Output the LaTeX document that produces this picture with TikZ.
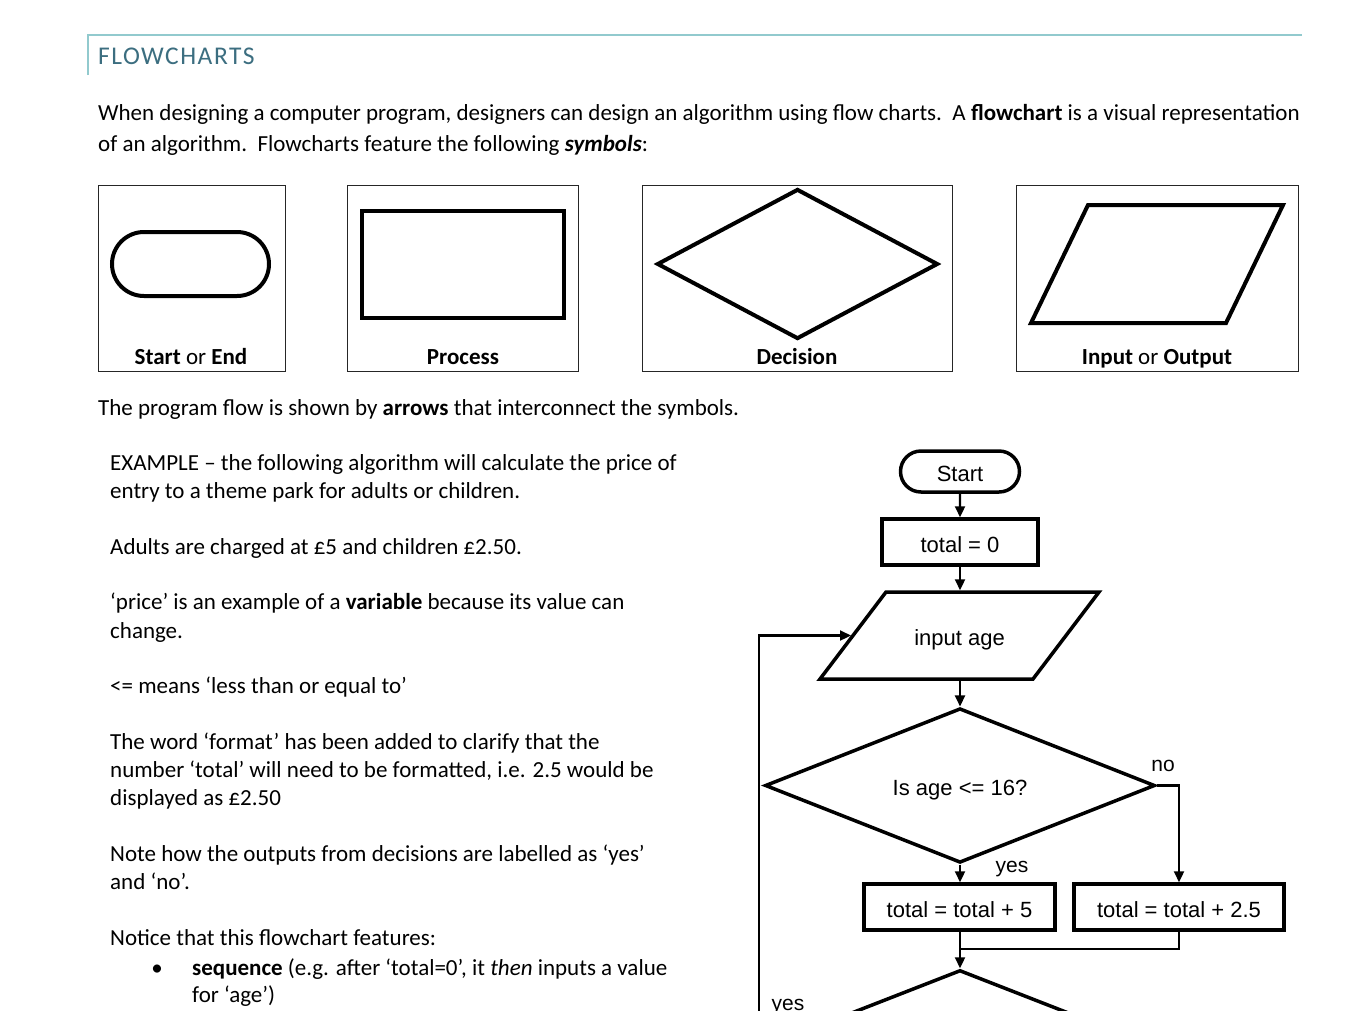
\documentclass[tikz,border=0pt]{standalone}
\usepackage{fontspec}
\setmainfont{Carlito}
\newfontfamily\fcfont{Liberation Sans}
\newfontfamily\headfont[LetterSpace=6]{Carlito}
\usetikzlibrary{shapes.geometric,shapes.misc,arrows.meta}
\definecolor{headline}{RGB}{146,202,206}
\definecolor{headtext}{RGB}{60,110,128}
\tikzset{
  body/.style={font=\fontsize{23}{26}\selectfont, inner sep=0pt, anchor=base west},
  legbox/.style={draw=black!85, line width=1pt, inner sep=0pt, anchor=north west, minimum height=186pt},
  sym/.style={draw, line width=4pt, inner sep=0pt},
  fc/.style={draw, line width=3.5pt, inner sep=0pt, text height=20pt, text depth=0pt, font=\fcfont\fontsize{22}{26}\selectfont},
  fctext/.style={inner sep=0pt, font=\fcfont\fontsize{22}{26}\selectfont},
  conn/.style={line width=2.2pt, -{Triangle[length=11pt,width=10pt]}},
  plain/.style={line width=2.2pt},
  lbl/.style={font=\fcfont\fontsize{21}{24}\selectfont, inner sep=0pt, anchor=base},
}
\begin{document}
\begin{tikzpicture}[x=1pt,y=-1pt]
\useasboundingbox (0,0) rectangle (1346,1010);
\fill[white] (0,0) rectangle (1346,1010);
\clip (0,0) rectangle (1346,1010);

% header
\draw[headline, line width=1.5pt] (88,75) -- (88,35) -- (1302,35);
\node[anchor=base west, inner sep=0pt, text=headtext, font=\headfont\fontsize{25.5}{28}\selectfont] (head) at (98,64) {FLOWCHARTS};

% intro
\node[body] (p1) at (98,120) {When designing a computer program, designers can design an algorithm using flow charts.\ \ A \textbf{flowchart} is a visual representation};
\node[body] (p2) at (98,151) {of an algorithm.\ \ Flowcharts feature the following \textbf{\textit{symbols}}:};

% legend boxes
\node[legbox, minimum width=187pt] (b1) at (98,185) {};
\node[legbox, minimum width=231pt] (b2) at (347,185) {};
\node[legbox, minimum width=310pt] (b3) at (642,185) {};
\node[legbox, minimum width=282pt] (b4) at (1016,185) {};

\node[sym, rounded rectangle, minimum width=157pt, minimum height=64pt] (s1) at (190.5,264) {};
\node[sym, rectangle, minimum width=202pt, minimum height=107pt] (s2) at (463,264.5) {};
\node[sym, diamond, minimum width=281pt, minimum height=150pt] (s3) at (797.5,264) {};
\node[inner sep=0pt, minimum width=252pt, minimum height=118pt] (s4) at (1157,264) {};
\draw[line width=4pt, line join=miter] (1088,205) -- (1283,205) -- (1226,323) -- (1031,323) -- cycle;

\node[body, anchor=base] (l1) at (191,364) {\textbf{Start} or \textbf{End}};
\node[body, anchor=base] (l2) at (463,364) {\textbf{Process}};
\node[body, anchor=base] (l3) at (797,364) {\textbf{Decision}};
\node[body, anchor=base] (l4) at (1157,364) {\textbf{Input} or \textbf{Output}};

\node[body] (p3) at (98,415) {The program flow is shown by \textbf{arrows} that interconnect the symbols.};

% left column
\node[body] (e1) at (110,470) {EXAMPLE – the following algorithm will calculate the price of};
\node[body] (e2) at (110,498) {entry to a theme park for adults or children.};
\node[body] (e3) at (110,554) {Adults are charged at £5 and children £2.50.};
\node[body] (e4) at (110,609) {‘price’ is an example of a \textbf{variable} because its value can};
\node[body] (e5) at (110,638) {change.};
\node[body] (e6) at (110,693) {<= means ‘less than or equal to’};
\node[body] (e7) at (110,749) {The word ‘format’ has been added to clarify that the};
\node[body] (e8) at (110,777) {number ‘total’ will need to be formatted, i.e. 2.5 would be};
\node[body] (e9) at (110,805) {displayed as £2.50};
\node[body] (e10) at (110,861) {Note how the outputs from decisions are labelled as ‘yes’};
\node[body] (e11) at (110,889) {and ‘no’.};
\node[body] (e12) at (110,945) {Notice that this flowchart features:};
\node[body, anchor=base] (bul) at (157,975) {•};
\node[body] (e13) at (192,975) {\textbf{sequence} (e.g. after ‘total=0’, it \textit{then} inputs a value};
\node[body] (e14) at (192,1002) {for ‘age’)};

% flowchart
\node[fc, rounded rectangle, minimum width=119pt, minimum height=41pt] (start) at (960,471.5) {Start};
\node[fc, rectangle, minimum width=156pt, minimum height=46pt] (tot0) at (960,542) {total = 0};
\node[fctext, minimum width=200pt, minimum height=87pt, outer sep=1.75pt, text height=20pt, text depth=0pt] (inp) at (959.5,635.5) {input age};
\draw[line width=3.5pt, line join=miter] (886,592) -- (1099,592) -- (1033,679) -- (820,679) -- cycle;
\coordinate (inpw) at (851,635.5);
\node[fc, diamond, minimum width=390pt, minimum height=153pt] (dec) at (960,785.5) {Is age <= 16?};
\node[fc, rectangle, minimum width=191pt, minimum height=46pt] (a5) at (959.5,907) {total = total + 5};
\node[fc, rectangle, minimum width=210pt, minimum height=46pt] (a25) at (1179,907) {total = total + 2.5};
\node[fc, diamond, minimum width=390pt, minimum height=153pt] (dec2) at (960,1046.5) {};
\coordinate (merge) at (960,949);

\draw[conn] (start) -- (tot0);
\draw[conn] (tot0) -- (inp.north -| tot0);
\draw[conn] (inp.south -| dec.north) -- (dec.north);
\draw[conn] (dec.south) -- (dec.south |- a5.north);
\draw[conn] (dec.east) -| (a25.north);
\draw[conn] (a5.south -| merge) -- (dec2.north);
\draw[plain] (a25.south) |- (merge);
\draw[conn] (dec2.west) -- ++(-4,0) |- (inpw);

\node[lbl] (no) at (1163,771) {no};
\node[lbl] (yes1) at (1012,872) {yes};
\node[lbl] (yes2) at (788,1010) {yes};
\end{tikzpicture}
\end{document}
